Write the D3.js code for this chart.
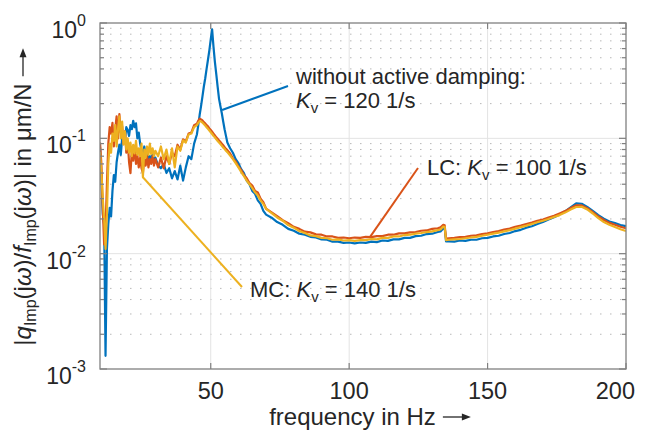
<!DOCTYPE html>
<html>
<head>
<meta charset="utf-8">
<script src="https://cdn.jsdelivr.net/npm/d3@7"></script>
<style>
  body { margin: 0; background: #fff; }
  text { font-family: "Liberation Sans", Arial, Helvetica, sans-serif; fill: #262626; }
</style>
</head>
<body>
<div id="chart"></div>
<script>
// frequency points in Hz (shared by all three measurements)
const freqHz = [
  10,10.5,11,11.5,12,12.5,13,13.5,14,14.5,15,15.5,16,16.5,17,17.5,18,18.5,19,19.5,
  20,20.5,21,21.5,22,22.5,23,23.5,24,24.5,25,25.5,26,26.5,27,27.5,28,28.5,29,29.5,30,
  31,32,33,34,35,36,37,38,39,40,41,42,43,44,45,
  45.5,46,46.5,47,47.5,48,48.5,49,49.5,50,50.5,51,51.5,52,52.5,53,53.5,54,54.5,55,55.5,56,
  57,58,59,60,61,62,63,64,65,66,67,68,69,70,
  72,74,76,78,80,82,84,86,88,90,92,94,96,98,100,102,104,106,108,110,112,114,116,118,120,122,124,126,128,130,132,
  133,134,134.5,135,136,
  138,140,142,144,146,148,150,152,154,156,158,160,162,164,166,168,170,172,174,176,178,180,182,184,186,188,190,192,194,196,198,200
];

// without active damping, Kv = 120 1/s (blue)
const noDamping = [
  0.084,0.045,0.022,0.018,0.0013,0.011,0.018,0.025,0.021,0.035,0.048,0.042,0.062,0.075,0.088,0.072,0.1,0.11,0.095,0.125,
  0.118,0.105,0.13,0.12,0.142,0.125,0.135,0.1,0.112,0.09,0.078,0.072,0.085,0.07,0.076,0.064,0.07,0.066,0.075,0.063,0.068,
  0.058,0.055,0.06,0.05,0.055,0.045,0.052,0.044,0.058,0.043,0.056,0.07,0.066,0.09,0.108,
  0.13,0.16,0.19,0.23,0.28,0.33,0.4,0.48,0.58,0.72,0.88,0.62,0.46,0.36,0.28,0.22,0.19,0.165,0.14,0.12,0.105,0.092,
  0.082,0.075,0.066,0.061,0.054,0.05,0.043,0.04,0.035,0.033,0.029,0.027,0.0235,0.0218,
  0.0205,0.0188,0.0178,0.0164,0.0158,0.0149,0.0146,0.014,0.0138,0.0133,0.0132,0.0127,0.0127,0.0124,0.0125,0.0123,0.0125,0.0124,0.0127,0.0126,0.013,0.0129,0.0133,0.0133,0.0137,0.0137,0.0142,0.0143,0.0148,0.0149,0.0154,
  0.0156,0.0165,0.0168,0.0128,0.0128,
  0.0127,0.013,0.0129,0.0132,0.0132,0.0136,0.0137,0.0141,0.0143,0.0148,0.0151,0.0157,0.0161,0.0168,0.0173,0.0181,0.0188,0.0198,0.0207,0.0219,0.0233,0.0252,0.0273,0.0271,0.0254,0.0235,0.0216,0.0201,0.019,0.0184,0.0177,0.0173
];

// LC, Kv = 100 1/s (orange)
const lcDamping = [
  0.092,0.06,0.025,0.012,0.016,0.04,0.09,0.125,0.11,0.136,0.085,0.12,0.155,0.1,0.162,0.112,0.128,0.09,0.115,0.075,
  0.095,0.062,0.05,0.078,0.064,0.085,0.06,0.072,0.056,0.068,0.055,0.05,0.066,0.058,0.07,0.056,0.066,0.06,0.07,0.058,0.066,
  0.056,0.068,0.055,0.07,0.06,0.075,0.07,0.088,0.08,0.098,0.094,0.11,0.112,0.13,0.134,
  0.142,0.148,0.146,0.143,0.138,0.135,0.13,0.127,0.122,0.118,0.114,0.11,0.106,0.102,0.099,0.096,0.093,0.09,0.087,0.084,0.081,0.079,
  0.074,0.067,0.063,0.057,0.053,0.048,0.045,0.041,0.039,0.035,0.034,0.03,0.028,0.0245,
  0.0228,0.0211,0.0195,0.0184,0.0171,0.0164,0.0155,0.0153,0.0147,0.0146,0.0141,0.0141,0.0137,0.0138,0.0136,0.0138,0.0137,0.014,0.0139,0.0142,0.0142,0.0146,0.0146,0.015,0.015,0.0153,0.0154,0.0158,0.0159,0.0164,0.0166,
  0.0169,0.0178,0.0176,0.0135,0.0136,
  0.0137,0.0139,0.014,0.0143,0.0144,0.0148,0.015,0.0154,0.0157,0.0162,0.0165,0.0171,0.0175,0.0181,0.0186,0.0193,0.0198,0.0206,0.0213,0.0223,0.0234,0.0249,0.0263,0.0262,0.0248,0.0229,0.021,0.0196,0.0185,0.0178,0.0171,0.0166
];

// MC, Kv = 140 1/s (yellow)
const mcDamping = [
  0.076,0.05,0.03,0.02,0.011,0.022,0.06,0.09,0.075,0.11,0.095,0.13,0.085,0.12,0.155,0.1,0.14,0.088,0.115,0.08,
  0.1,0.075,0.092,0.07,0.088,0.074,0.095,0.072,0.082,0.07,0.09,0.046,0.08,0.068,0.085,0.072,0.09,0.073,0.082,0.07,0.078,
  0.07,0.085,0.066,0.08,0.06,0.082,0.056,0.085,0.078,0.096,0.092,0.108,0.11,0.125,0.13,
  0.136,0.141,0.14,0.137,0.133,0.129,0.125,0.121,0.117,0.113,0.109,0.105,0.102,0.098,0.095,0.092,0.089,0.086,0.083,0.081,0.078,0.076,
  0.071,0.066,0.061,0.056,0.051,0.047,0.043,0.04,0.037,0.034,0.032,0.029,0.027,0.0245,
  0.0225,0.0206,0.0193,0.0177,0.0168,0.0157,0.0151,0.0144,0.0142,0.0137,0.0136,0.0132,0.0133,0.013,0.0131,0.0129,0.0131,0.0131,0.0134,0.0133,0.0137,0.0137,0.0141,0.0141,0.0145,0.0146,0.0149,0.0151,0.0154,0.0156,0.016,
  0.0162,0.0172,0.017,0.0131,0.0132,
  0.0133,0.0134,0.0136,0.0138,0.014,0.0143,0.0146,0.0149,0.0152,0.0156,0.016,0.0165,0.017,0.0175,0.0181,0.0187,0.0193,0.02,0.0208,0.0216,0.0227,0.0241,0.0254,0.0255,0.0242,0.0223,0.0203,0.0188,0.0178,0.017,0.0163,0.0157
];

const xTicks = [50, 100, 150, 200];
const yTicks = [1e-3, 1e-2, 1e-1, 1];
const yTickExp = ["-3", "-2", "-1", "0"];

const width = 650;
const height = 437;
const margin = { top: 23, right: 24, bottom: 68, left: 100 };
const axisColor = "#808080";
const colors = ["#0072BD", "#D95319", "#EDB120"];

const svg = d3.select("#chart")
  .append("svg")
  .attr("width", width)
  .attr("height", height);

const x = d3.scaleLinear().domain([10, 200]).range([margin.left, width - margin.right]);
const y = d3.scaleLog().domain([1e-3, 1]).range([height - margin.bottom, margin.top]);
const x0 = margin.left, x1 = width - margin.right;
const y0 = height - margin.bottom, y1 = margin.top;

// grid: dotted minor on y, solid major on both
const minorY = y.ticks().filter(d => !yTicks.some(t => Math.abs(t - d) / t < 1e-6));
svg.append("g").selectAll("line").data(minorY).join("line")
  .attr("x1", x0).attr("x2", x1)
  .attr("y1", d => y(d)).attr("y2", d => y(d))
  .attr("stroke", "#b8b8b8").attr("stroke-width", 1)
  .attr("stroke-dasharray", "1.5,8.5");

svg.append("g").selectAll("line").data(yTicks.slice(1, 3)).join("line")
  .attr("x1", x0).attr("x2", x1)
  .attr("y1", d => y(d)).attr("y2", d => y(d))
  .attr("stroke", "#e3e3e3").attr("stroke-width", 1);

svg.append("g").selectAll("line").data(xTicks.slice(0, 3)).join("line")
  .attr("x1", d => x(d)).attr("x2", d => x(d))
  .attr("y1", y0).attr("y2", y1)
  .attr("stroke", "#e3e3e3").attr("stroke-width", 1);

// curves
svg.append("clipPath").attr("id", "plot-clip")
  .append("rect").attr("x", x0).attr("y", y1).attr("width", x1 - x0).attr("height", y0 - y1);

const line = d3.line().x(d => x(d[0])).y(d => y(d[1]));
const series = [noDamping, lcDamping, mcDamping];
series.forEach((vals, i) => {
  svg.append("path")
    .datum(freqHz.map((f, j) => [f, vals[j]]))
    .attr("clip-path", "url(#plot-clip)")
    .attr("fill", "none")
    .attr("stroke", colors[i])
    .attr("stroke-width", 2.2)
    .attr("stroke-linejoin", "round")
    .attr("d", line);
});

// box and ticks
svg.append("rect")
  .attr("x", x0).attr("y", y1).attr("width", x1 - x0).attr("height", y0 - y1)
  .attr("fill", "none").attr("stroke", axisColor).attr("stroke-width", 1.3);

const ticks = svg.append("g").attr("stroke", axisColor).attr("stroke-width", 1.2);
y.ticks().forEach(d => {
  const len = yTicks.some(t => Math.abs(t - d) / t < 1e-6) ? 7 : 4;
  ticks.append("line").attr("x1", x0).attr("x2", x0 + len).attr("y1", y(d)).attr("y2", y(d));
  ticks.append("line").attr("x1", x1).attr("x2", x1 - len).attr("y1", y(d)).attr("y2", y(d));
});
xTicks.forEach(d => {
  ticks.append("line").attr("x1", x(d)).attr("x2", x(d)).attr("y1", y0).attr("y2", y0 - 6);
  ticks.append("line").attr("x1", x(d)).attr("x2", x(d)).attr("y1", y1).attr("y2", y1 + 6);
});

// tick labels
svg.append("g").selectAll("text").data(xTicks).join("text")
  .attr("x", (d, i) => i === xTicks.length - 1 ? x(d) + 9 : x(d))
  .attr("y", y0 + 30)
  .attr("text-anchor", (d, i) => i === xTicks.length - 1 ? "end" : "middle")
  .attr("font-size", 23.5)
  .text(d => d);

yTicks.forEach((d, i) => {
  const t = svg.append("text")
    .attr("x", 86).attr("y", y(d) + 15)
    .attr("text-anchor", "end").attr("font-size", 23);
  t.append("tspan").text("10");
  t.append("tspan").attr("font-size", 16).attr("dy", -12).text(yTickExp[i]);
});

// arrow helper for axis titles
function arrow(g, xa, ya, len) {
  g.append("line").attr("x1", xa).attr("x2", xa + len - 6).attr("y1", ya).attr("y2", ya)
    .attr("stroke", "#262626").attr("stroke-width", 1.3);
  g.append("path")
    .attr("d", `M${xa + len},${ya} L${xa + len - 9},${ya - 3.5} L${xa + len - 9},${ya + 3.5} Z`)
    .attr("fill", "#262626");
}

// x title
const xt = svg.append("g").attr("transform", `translate(370, 425)`);
const xText = xt.append("text").attr("font-size", 24).text("frequency in Hz");
const xLen = xText.node().getComputedTextLength();
const xTotal = xLen + 7 + 28;
xText.attr("x", -xTotal / 2);
arrow(xt, -xTotal / 2 + xLen + 7, -8, 28);

// y title
const yt = svg.append("g").attr("transform", `translate(31, 197) rotate(-90)`);
const yText = yt.append("text").attr("font-size", 24);
yText.append("tspan").text("|");
yText.append("tspan").attr("font-style", "italic").text("q");
yText.append("tspan").attr("font-size", 16).attr("dy", 5).text("Imp");
yText.append("tspan").attr("dy", -5).text("(j");
yText.append("tspan").attr("font-style", "italic").text("ω");
yText.append("tspan").text(")/");
yText.append("tspan").attr("font-style", "italic").text("f");
yText.append("tspan").attr("font-size", 16).attr("dy", 5).text("Imp");
yText.append("tspan").attr("dy", -5).text("(j");
yText.append("tspan").attr("font-style", "italic").text("ω");
yText.append("tspan").text(")| in μm/N");
const yLen = yText.node().getComputedTextLength();
const yTotal = yLen + 7 + 28;
yText.attr("x", -yTotal / 2);
arrow(yt, -yTotal / 2 + yLen + 7, -8, 28);

// annotations
function kv(t, prefix, value) {
  t.append("tspan").text(prefix);
  t.append("tspan").attr("font-style", "italic").text("K");
  t.append("tspan").attr("font-size", 15).attr("dy", 5).text("v");
  t.append("tspan").attr("dy", -5).text(" = " + value);
}

// blue
svg.append("line")
  .attr("x1", x(54.1)).attr("y1", y(0.176)).attr("x2", 288).attr("y2", 86)
  .attr("stroke", colors[0]).attr("stroke-width", 2);
svg.append("text").attr("x", 296).attr("y", 84).attr("font-size", 22).text("without active damping:");
kv(svg.append("text").attr("x", 296).attr("y", 108).attr("font-size", 22), "", "120 1/s");

// orange
svg.append("line")
  .attr("x1", x(107.5)).attr("y1", y(0.0139)).attr("x2", 418).attr("y2", 168)
  .attr("stroke", colors[1]).attr("stroke-width", 2);
kv(svg.append("text").attr("x", 427).attr("y", 175).attr("font-size", 22), "LC: ", "100 1/s");

// yellow
svg.append("line")
  .attr("x1", x(25.5)).attr("y1", y(0.046)).attr("x2", 242).attr("y2", 287)
  .attr("stroke", colors[2]).attr("stroke-width", 2);
kv(svg.append("text").attr("x", 250).attr("y", 297).attr("font-size", 22), "MC: ", "140 1/s");
</script>
</body>
</html>
